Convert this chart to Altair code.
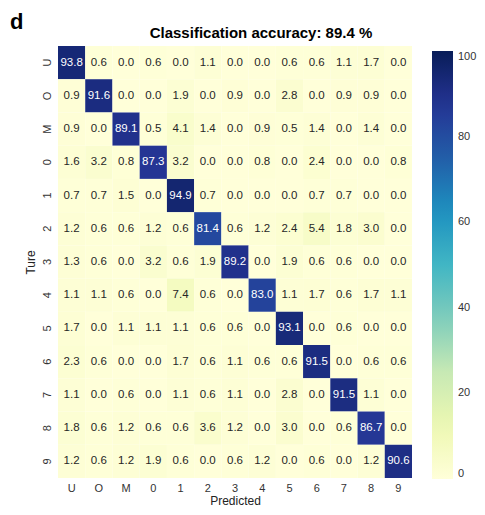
import altair as alt
import pandas as pd

classes = ["U", "O", "M", "0", "1", "2", "3", "4", "5", "6", "7", "8", "9"]
matrix = [
    [93.8, 0.6, 0.0, 0.6, 0.0, 1.1, 0.0, 0.0, 0.6, 0.6, 1.1, 1.7, 0.0],
    [0.9, 91.6, 0.0, 0.0, 1.9, 0.0, 0.9, 0.0, 2.8, 0.0, 0.9, 0.9, 0.0],
    [0.9, 0.0, 89.1, 0.5, 4.1, 1.4, 0.0, 0.9, 0.5, 1.4, 0.0, 1.4, 0.0],
    [1.6, 3.2, 0.8, 87.3, 3.2, 0.0, 0.0, 0.8, 0.0, 2.4, 0.0, 0.0, 0.8],
    [0.7, 0.7, 1.5, 0.0, 94.9, 0.7, 0.0, 0.0, 0.0, 0.7, 0.7, 0.0, 0.0],
    [1.2, 0.6, 0.6, 1.2, 0.6, 81.4, 0.6, 1.2, 2.4, 5.4, 1.8, 3.0, 0.0],
    [1.3, 0.6, 0.0, 3.2, 0.6, 1.9, 89.2, 0.0, 1.9, 0.6, 0.6, 0.0, 0.0],
    [1.1, 1.1, 0.6, 0.0, 7.4, 0.6, 0.0, 83.0, 1.1, 1.7, 0.6, 1.7, 1.1],
    [1.7, 0.0, 1.1, 1.1, 1.1, 0.6, 0.6, 0.0, 93.1, 0.0, 0.6, 0.0, 0.0],
    [2.3, 0.6, 0.0, 0.0, 1.7, 0.6, 1.1, 0.6, 0.6, 91.5, 0.0, 0.6, 0.6],
    [1.1, 0.0, 0.6, 0.0, 1.1, 0.6, 1.1, 0.0, 2.8, 0.0, 91.5, 1.1, 0.0],
    [1.8, 0.6, 1.2, 0.6, 0.6, 3.6, 1.2, 0.0, 3.0, 0.0, 0.6, 86.7, 0.0],
    [1.2, 0.6, 1.2, 1.9, 0.6, 0.0, 0.6, 1.2, 0.0, 0.6, 0.0, 1.2, 90.6],
]
colorbar_ticks = [0, 20, 40, 60, 80, 100]
title_text = "Classification accuracy: 89.4 %"
panel_letter = "d"
# matplotlib / ColorBrewer YlGnBu stops
ylgnbu = ["#ffffd9", "#edf8b1", "#c7e9b4", "#7fcdbb", "#41b6c4",
          "#1d91c0", "#225ea8", "#253494", "#081d58"]
stops = [0, 12.5, 25, 37.5, 50, 62.5, 75, 87.5, 100]

rows = []
for i, t in enumerate(classes):
    for j, p in enumerate(classes):
        rows.append({"Ture": t, "Predicted": p, "value": matrix[i][j]})
df = pd.DataFrame(rows)

W, H = 354, 432
FONT = "Liberation Sans"

base = alt.Chart(df).encode(
    x=alt.X("Predicted:N", sort=classes, title="Predicted",
            axis=alt.Axis(labelAngle=0, domain=False, ticks=False, labelPadding=4,
                          labelFontSize=11, labelColor="#333333", titleFontSize=12,
                          titleFontWeight="normal", titleColor="#222222", titlePadding=2,
                          labelFont=FONT, titleFont=FONT)),
    y=alt.Y("Ture:N", sort=classes, title="Ture",
            axis=alt.Axis(labelAngle=270, domain=False, ticks=False, labelPadding=6,
                          labelFontSize=11, labelColor="#333333", titleFontSize=12,
                          titleFontWeight="normal", titleColor="#222222", titlePadding=4,
                          labelFont=FONT, titleFont=FONT)),
)

heat = base.mark_rect().encode(
    color=alt.Color("value:Q",
                    scale=alt.Scale(domain=stops, range=ylgnbu, interpolate="rgb"),
                    legend=alt.Legend(title=None, orient="none", legendX=374, legendY=5,
                                      gradientLength=428, gradientThickness=21,
                                      values=colorbar_ticks, labelFontSize=11,
                                      labelColor="#333333", labelFont=FONT,
                                      labelBaseline="middle",
                                      labelOffset=5, gradientStrokeWidth=0))
)

text = base.mark_text(fontSize=11.5, font=FONT).encode(
    text=alt.Text("value:Q", format=".1f"),
    color=alt.condition(alt.datum.value > 50, alt.value("white"), alt.value("#262626")),
)

letter = alt.Chart(pd.DataFrame({"t": [panel_letter]})).mark_text(
    fontSize=22, fontWeight="bold", font=FONT, align="left", baseline="middle", color="black"
).encode(text="t:N", x=alt.value(-48), y=alt.value(-24))

title = alt.Chart(pd.DataFrame({"t": [title_text]})).mark_text(
    fontSize=15, fontWeight="bold", font=FONT, align="center", baseline="middle", color="black"
).encode(text="t:N", x=alt.value(203), y=alt.value(-13))

chart = alt.layer(heat, text, letter, title).properties(
    width=W, height=H,
    autosize=alt.AutoSizeParams(type="none"),
    padding={"left": 50, "top": 38, "right": 65, "bottom": 29},
).configure_view(stroke=None)

chart.save("out.html", embed_options={"renderer": "svg", "actions": False})
